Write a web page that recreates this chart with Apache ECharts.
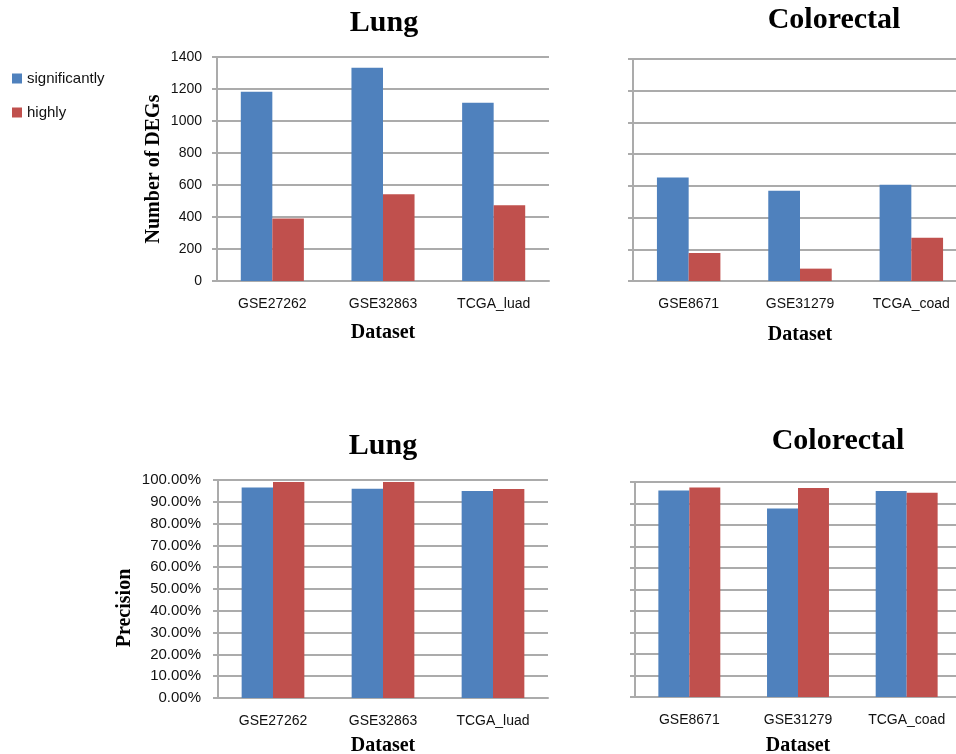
<!DOCTYPE html>
<html>
<head>
<meta charset="utf-8">
<script src="https://cdn.jsdelivr.net/npm/echarts@6/dist/echarts.min.js"></script>
<style>
  html, body { margin: 0; padding: 0; background: #fff; }
  #chart { width: 956px; height: 754px; }
</style>
</head>
<body>
<div id="chart"></div>
<script>
// Datasets per cancer type
const lungSets = ['GSE27262', 'GSE32863', 'TCGA_luad'];
const crcSets = ['GSE8671', 'GSE31279', 'TCGA_coad'];

// Number of differentially expressed genes
const lungDegSignificantly = [1183, 1333, 1114];
const lungDegHighly = [390, 542, 473];
const crcDegSignificantly = [653, 569, 607];
const crcDegHighly = [176, 78, 273];

// Precision (%)
const lungPrecSignificantly = [96.6, 96.0, 94.9];
const lungPrecHighly = [99.1, 99.1, 95.9];
const crcPrecSignificantly = [96.1, 87.7, 95.8];
const crcPrecHighly = [97.5, 97.2, 95.0];

const seriesNames = ['significantly', 'highly'];
const colors = ['#4F81BD', '#C0504D'];

const gridColor = '#ABABAB';
const tickFont = 'Liberation Sans, Arial, sans-serif';
const serifFont = 'Liberation Serif, Times New Roman, serif';

function xAxisFor(idx, cats, gap) {
  return {
    type: 'category', gridIndex: idx, data: cats,
    axisLine: { show: true, lineStyle: { color: gridColor, width: 2 } },
    axisTick: { show: false },
    axisLabel: { color: '#111', fontFamily: tickFont, fontSize: 14, margin: 16 },
    name: 'Dataset', nameLocation: 'middle', nameGap: gap, nameMoveOverlap: false,
    nameTextStyle: { fontFamily: serifFont, fontWeight: 'bold', fontSize: 20, color: '#000' }
  };
}

function yAxisFor(idx, opts) {
  return Object.assign({
    type: 'value', gridIndex: idx,
    axisLine: { show: true, lineStyle: { color: gridColor, width: 2 } },
    axisTick: { show: true, length: 5, inside: false, lineStyle: { color: gridColor, width: 2 } },
    splitLine: { show: true, lineStyle: { color: gridColor, width: 2 } },
    nameMoveOverlap: false
  }, opts);
}

function barPair(idx, sig, high) {
  return [
    { name: seriesNames[0], type: 'bar', xAxisIndex: idx, yAxisIndex: idx, data: sig,
      itemStyle: { color: colors[0] }, barGap: '0%', barCategoryGap: '43%' },
    { name: seriesNames[1], type: 'bar', xAxisIndex: idx, yAxisIndex: idx, data: high,
      itemStyle: { color: colors[1] }, barGap: '0%', barCategoryGap: '43%' }
  ];
}

function titleText(x, y, text) {
  return {
    type: 'text', x: x, y: y,
    style: { text: text, font: 'bold 30px ' + serifFont, fill: '#000',
      textAlign: 'center', textVerticalAlign: 'middle' }
  };
}

const chart = echarts.init(document.getElementById('chart'), null, { renderer: 'canvas' });

const option = {
  backgroundColor: '#fff',
  animation: false,
  legend: {
    data: seriesNames, orient: 'vertical', left: 12, top: 71, padding: 0,
    itemWidth: 10, itemHeight: 10, itemGap: 19, icon: 'rect',
    textStyle: { fontFamily: tickFont, fontSize: 15, color: '#111' }
  },
  grid: [
    { left: 217, top: 57, width: 332, height: 224, outerBoundsMode: 'none' },
    { left: 633, top: 59, width: 334, height: 222, outerBoundsMode: 'none' },
    { left: 218, top: 480, width: 330, height: 218, outerBoundsMode: 'none' },
    { left: 635, top: 482, width: 326, height: 215, outerBoundsMode: 'none' }
  ],
  xAxis: [
    xAxisFor(0, lungSets, 42),
    xAxisFor(1, crcSets, 44),
    xAxisFor(2, lungSets, 38),
    xAxisFor(3, crcSets, 39)
  ],
  yAxis: [
    yAxisFor(0, { min: 0, max: 1400, interval: 200,
      axisLabel: { color: '#111', fontFamily: tickFont, fontSize: 14, margin: 15,
        formatter: v => String(v) },
      name: 'Number of DEGs', nameLocation: 'middle', nameGap: 53, nameRotate: 90,
      nameTextStyle: { fontFamily: serifFont, fontWeight: 'bold', fontSize: 20, color: '#000' } }),
    yAxisFor(1, { min: 0, max: 1400, interval: 200, axisLabel: { show: false } }),
    yAxisFor(2, { min: 0, max: 100, interval: 10,
      axisLabel: { color: '#111', fontFamily: tickFont, fontSize: 15, margin: 17,
        formatter: v => v.toFixed(2) + '%' } }),
    yAxisFor(3, { min: 0, max: 100, interval: 10, axisLabel: { show: false } })
  ],
  series: [].concat(
    barPair(0, lungDegSignificantly, lungDegHighly),
    barPair(1, crcDegSignificantly, crcDegHighly),
    barPair(2, lungPrecSignificantly, lungPrecHighly),
    barPair(3, crcPrecSignificantly, crcPrecHighly)
  ),
  graphic: [
    titleText(384, 23, 'Lung'),
    titleText(834, 20, 'Colorectal'),
    titleText(383, 446, 'Lung'),
    titleText(838, 441, 'Colorectal'),
    {
      type: 'text', x: 125, y: 608, rotation: Math.PI / 2,
      style: { text: 'Precision', font: 'bold 20px ' + serifFont, fill: '#000',
        textAlign: 'center', textVerticalAlign: 'middle' }
    }
  ]
};

chart.setOption(option);
</script>
</body>
</html>
